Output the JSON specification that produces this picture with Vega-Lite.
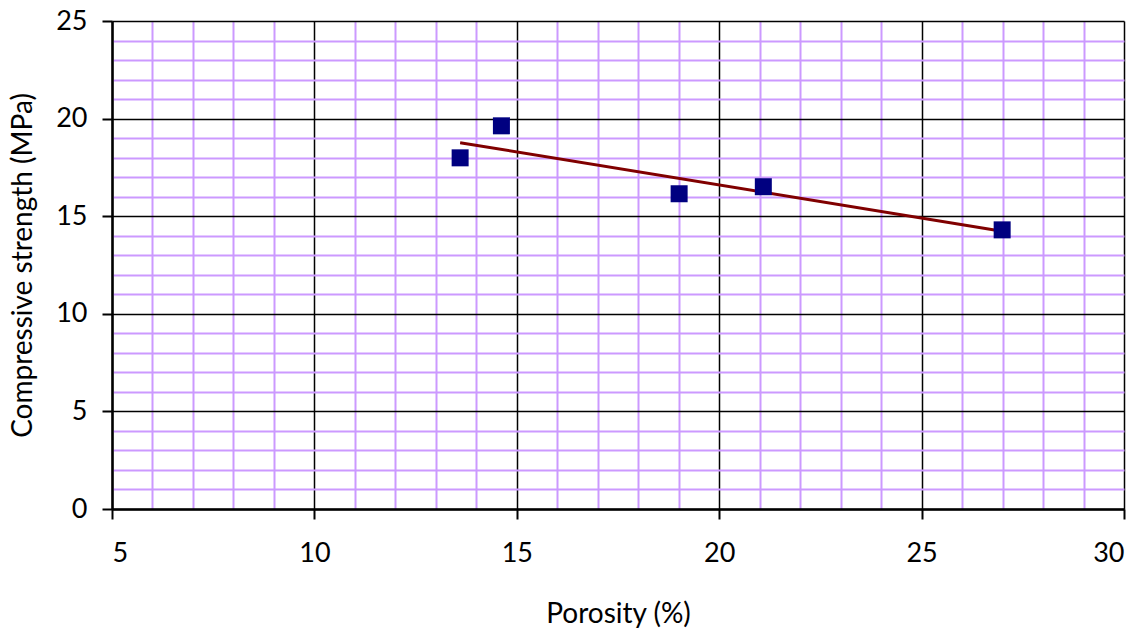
{
  "$schema": "https://vega.github.io/schema/vega-lite/v6.json",
  "width": 1012,
  "height": 488,
  "autosize": {"type": "none"},
  "padding": {"left": 112, "top": 21, "right": 21, "bottom": 123},
  "background": "white",
  "config": {
    "view": {"stroke": null},
    "font": "Lato",
    "axis": {
      "labelFont": "Lato",
      "titleFont": "Lato",
      "labelColor": "black",
      "titleColor": "black",
      "titleFontWeight": "normal"
    }
  },
  "data": {
    "values": [
      {"porosity": 13.6, "strength": 17.99},
      {"porosity": 14.62, "strength": 19.63},
      {"porosity": 19.01, "strength": 16.15},
      {"porosity": 21.09, "strength": 16.51},
      {"porosity": 26.99, "strength": 14.3}
    ]
  },
  "resolve": {"axis": {"x": "independent", "y": "independent"}},
  "layer": [
    {
      "mark": {"type": "point", "opacity": 0},
      "encoding": {
        "x": {
          "field": "porosity", "type": "quantitative",
          "scale": {"domain": [5, 30], "nice": false, "zero": false},
          "axis": {
            "orient": "bottom", "values": [6,7,8,9,11,12,13,14,16,17,18,19,21,22,23,24,26,27,28,29],
            "grid": true, "gridColor": "#CC99FF", "gridWidth": 2, "gridOpacity": 1,
            "domain": false, "ticks": false, "labels": false, "title": null
          }
        },
        "y": {
          "field": "strength", "type": "quantitative",
          "scale": {"domain": [0, 25], "nice": false},
          "axis": {
            "orient": "left", "values": [1,2,3,4,6,7,8,9,11,12,13,14,16,17,18,19,21,22,23,24],
            "grid": true, "gridColor": "#CC99FF", "gridWidth": 2, "gridOpacity": 1,
            "domain": false, "ticks": false, "labels": false, "title": null
          }
        }
      }
    },
    {
      "mark": {"type": "point", "opacity": 0},
      "encoding": {
        "x": {
          "field": "porosity", "type": "quantitative",
          "axis": {
            "orient": "bottom", "values": [5,10,15,20,25,30],
            "grid": true, "gridColor": "black", "gridWidth": 1.5, "gridOpacity": 1,
            "domain": true, "domainColor": "black", "domainWidth": 2.5,
            "ticks": true, "tickColor": "black", "tickSize": 10, "tickWidth": 2,
            "labelFontSize": 27, "labelPadding": 34, "labelBaseline": "middle",
            "title": "Porosity (%)", "titleFontSize": 28, "titlePadding": 34
          }
        },
        "y": {
          "field": "strength", "type": "quantitative",
          "axis": {
            "orient": "left", "values": [0,5,10,15,20,25],
            "grid": true, "gridColor": "black", "gridWidth": 1.5, "gridOpacity": 1,
            "domain": true, "domainColor": "black", "domainWidth": 2.5,
            "ticks": true, "tickColor": "black", "tickSize": 10, "tickWidth": 2,
            "labelFontSize": 27, "labelPadding": 15,
            "title": "Compressive strength (MPa)", "titleFontSize": 28, "titlePadding": 18
          }
        }
      }
    },
    {
      "mark": {"type": "line", "color": "#800000", "strokeWidth": 3},
      "transform": [{"regression": "strength", "on": "porosity"}],
      "encoding": {
        "x": {"field": "porosity", "type": "quantitative", "axis": null},
        "y": {"field": "strength", "type": "quantitative", "axis": null}
      }
    },
    {
      "mark": {"type": "square", "color": "#000080", "opacity": 1, "filled": true, "size": 289},
      "encoding": {
        "x": {"field": "porosity", "type": "quantitative", "axis": null},
        "y": {"field": "strength", "type": "quantitative", "axis": null}
      }
    }
  ]
}
